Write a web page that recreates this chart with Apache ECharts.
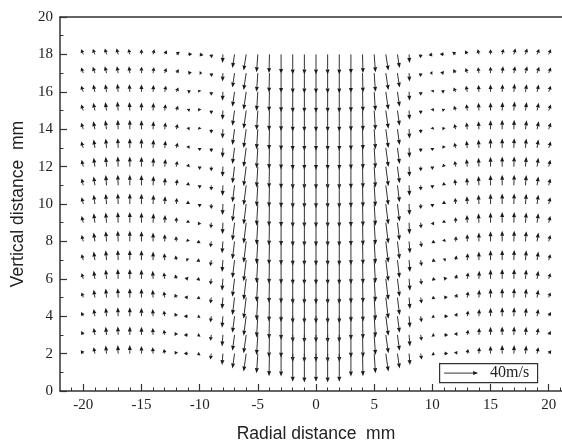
<!DOCTYPE html>
<html>
<head>
<meta charset="utf-8">
<script src="https://cdn.jsdelivr.net/npm/echarts@6/dist/echarts.min.js"></script>
<style>
  html, body { margin: 0; padding: 0; background: #fff; }
  #chart { width: 562px; height: 441px; }
</style>
</head>
<body>
<div id="chart"></div>
<script>
// grid positions (mm)
var xs = [-20,-19,-18,-17,-16,-15,-14,-13,-12,-11,-10,-9,-8,-7,-6,-5,-4,-3,-2,-1,0,1,2,3,4,5,6,7,8,9,10,11,12,13,14,15,16,17,18,19,20];
var ys = [18,17,16,15,14,13,12,11,10,9,8,7,6,5,4,3,2];

// tick labels
var xMajor = [-20,-15,-10,-5,0,5,10,15,20];
var xMinor = [-21,-20,-19,-18,-17,-16,-15,-14,-13,-12,-11,-10,-9,-8,-7,-6,-5,-4,-3,-2,-1,0,1,2,3,4,5,6,7,8,9,10,11,12,13,14,15,16,17,18,19,20,21];

// radial velocity u (m/s), one row per ys entry
var U = [
  [-2.5,-2.5,-2,-2,-1.5,0,1.5,2.5,4,5,4.5,0.5,-0.5,-2.5,-3,-1.5,-0.5,0,0,0,0, 0,0,0,0.5,1.5,3,2.5,0.5,-0.5,-4.5,-5,-4,-2.5,-1.5,0,1.5,2,2,2.5,2.5],
  [-2.5,-2.5,-2,-1.5,-1,0,1,2,3,4.5,3,0.5,-0.5,-2.5,-3,-1.5,-0.5,0,0,0,0, 0,0,0,0.5,1.5,3,2.5,0.5,-0.5,-3,-4.5,-3,-2,-1,0,1,1.5,2,2.5,2.5],
  [-2.5,-2,-1.5,-1,-0.5,0,0.5,1.5,2.5,3.5,-1.5,0,-0.5,-2.5,-3,-1.5,-0.5,0,0,0,0, 0,0,0,0.5,1.5,3,2.5,0.5,0,1.5,-3.5,-2.5,-1.5,-0.5,0,0.5,1,1.5,2,2.5],
  [-2.5,-2,-1.5,-1,-0.5,0,0.5,1,2,2.5,-1.5,0,-0.5,-2.5,-3,-1.5,-0.5,0,0,0,0, 0,0,0,0.5,1.5,3,2.5,0.5,0,1.5,-2.5,-2,-1,-0.5,0,0.5,1,1.5,2,2.5],
  [-2.5,-2,-1.5,-0.5,0,0,0.5,1,1.5,2,-1,0,-0.5,-2.5,-3,-1.5,-0.5,0,0,0,0, 0,0,0,0.5,1.5,3,2.5,0.5,0,1,-2,-1.5,-1,-0.5,0,0,0.5,1.5,2,2.5],
  [-2.5,-1.5,-1,-0.5,0,0,0.5,1,1.5,1.5,0,0,-0.5,-2.5,-3,-1.5,-0.5,0,0,0,0, 0,0,0,0.5,1.5,3,2.5,0.5,0,0,-1.5,-1.5,-1,-0.5,0,0,0.5,1,1.5,2.5],
  [-2,-1.5,-1,-0.5,0,0,0.5,1,1,1,0,0,-0.5,-2.5,-3,-1.5,-0.5,0,0,0,0, 0,0,0,0.5,1.5,3,2.5,0.5,0,0,-1,-1,-1,-0.5,0,0,0.5,1,1.5,2],
  [-2,-1.5,-1,-0.5,0,0,0.5,0.5,1,0.5,0,0,-0.5,-2.5,-3,-1.5,-0.5,0,0,0,0, 0,0,0,0.5,1.5,3,2.5,0.5,0,0,-0.5,-1,-0.5,-0.5,0,0,0.5,1,1.5,2],
  [-2,-1.5,-1,-0.5,0,0,0.5,0.5,0.5,0,0,0,-0.5,-2.5,-3,-1.5,-0.5,0,0,0,0, 0,0,0,0.5,1.5,3,2.5,0.5,0,0,0,-0.5,-0.5,-0.5,0,0,0.5,1,1.5,2],
  [-2,-1.5,-1,-0.5,0,0,0.5,0.5,0,0,-2,-0.5,-0.5,-2.5,-3,-1.5,-0.5,0,0,0,0, 0,0,0,0.5,1.5,3,2.5,0.5,0.5,2,0,0,-0.5,-0.5,0,0,0.5,1,1.5,2],
  [-2,-1.5,-1,-0.5,0,0,0,0,-0.5,-1,-3.5,-1,-1,-2.5,-3,-1.5,-0.5,0,0,0,0, 0,0,0,0.5,1.5,3,2.5,1,1,3.5,1,0.5,0,0,0,0,0.5,1,1.5,2],
  [-2,-1.5,-1,-0.5,0,0,0,-0.5,-1,-2.5,-4,-1,-1,-2.5,-3,-1.5,-0.5,0,0,0,0, 0,0,0,0.5,1.5,3,2.5,1,1,4,2.5,1,0.5,0,0,0,0.5,1,1.5,2],
  [-2,-1.5,-1,-0.5,0,0,-0.5,-1,-1.5,-4,-4,-1,-1,-2.5,-3,-1.5,-0.5,0,0,0,0, 0,0,0,0.5,1.5,3,2.5,1,1,4,4,1.5,1,0.5,0,0,0.5,1,1.5,2],
  [-2,-1.5,-1,-0.5,0,0,-0.5,-1,-2,-4.5,-3.5,-1,-1,-2.5,-3,-1.5,-0.5,0,0,0,0, 0,0,0,0.5,1.5,3,2.5,1,1,3.5,4.5,2,1,0.5,0,0,0.5,1,1.5,2],
  [-2.5,-1.5,-1,-0.5,0,0,-0.5,-1,-2,-5,-3,-1,-1,-2.5,-3,-1.5,-0.5,0,0,0,0, 0,0,0,0.5,1.5,3,2.5,1,1,3,5,2,1,0.5,0,0,0.5,1,1.5,2.5],
  [-2.5,-1.5,-1,-0.5,0,0,-0.5,-1,-2,-5,-3,-1,-1,-2.5,-3,-1.5,-0.5,0,0,0,0, 0,0,0,0.5,1.5,3,2.5,1,1,3,5,2,1,0.5,0,0,0.5,1,1.5,2.5],
  [-3,-1.5,-1,-0.5,0,0,-0.5,-1,-2,-5,-3,-1,-1,-2.5,-3,-1.5,-0.5,0,0,0,0, 0,0,0,0.5,1.5,3,2.5,1,1,3,5,2,1,0.5,0,0,0.5,1,1.5,3]
];

// vertical velocity v (m/s), positive = up
var V = [
  [6,6.5,7,7,6.5,6,6,5,3,0.5,-1,-4.5,-10,-16,-19,-21,-22,-23,-23.5,-23.5,-23.5, -23.5,-23.5,-23,-22,-21,-19,-16,-10,-4.5,-1,0.5,3,5,6,6,6.5,7,7,6.5,6],
  [6.5,7.5,8,8,8,7.5,7,6,4.5,1,0,-4.5,-10,-17,-20,-22,-23,-23.5,-24,-24,-24, -24,-24,-23.5,-23,-22,-20,-17,-10,-4.5,0,1,4.5,6,7,7.5,8,8,8,7.5,6.5],
  [7,8.5,9,9.5,9,8.5,8,7,5,1.5,2.5,-4.5,-10.5,-17.5,-21,-22.5,-23.5,-24,-24.5,-24.5,-24.5, -24.5,-24.5,-24,-23.5,-22.5,-21,-17.5,-10.5,-4.5,2.5,1.5,5,7,8,8.5,9,9.5,9,8.5,7],
  [7,9,10,10.5,10,9.5,9,7.5,5.5,2,3,-4.5,-11,-18,-21.5,-23,-24,-24.5,-25,-25,-25, -25,-25,-24.5,-24,-23,-21.5,-18,-11,-4.5,3,2,5.5,7.5,9,9.5,10,10.5,10,9,7],
  [7.5,9.5,10.5,11,11,10.5,9.5,8,6,2.5,3,-5,-11,-18.5,-22,-23.5,-24.5,-25,-25.5,-25.5,-25.5, -25.5,-25.5,-25,-24.5,-23.5,-22,-18.5,-11,-5,3,2.5,6,8,9.5,10.5,11,11,10.5,9.5,7.5],
  [7.5,10,11,11.5,11.5,11,10,8.5,6,3,-3.5,-5,-11.5,-19,-22.5,-24,-25,-25.5,-26,-26,-26, -26,-26,-25.5,-25,-24,-22.5,-19,-11.5,-5,-3.5,3,6,8.5,10,11,11.5,11.5,11,10,7.5],
  [8,10.5,11.5,12,12,11.5,10.5,9,6.5,3.5,-4,-5.5,-12,-19.5,-23,-24.5,-25.5,-26,-26.5,-26.5,-26.5, -26.5,-26.5,-26,-25.5,-24.5,-23,-19.5,-12,-5.5,-4,3.5,6.5,9,10.5,11.5,12,12,11.5,10.5,8],
  [8,10.5,12,12.5,12.5,12,11,9,7,4,-4,-6,-12.5,-20,-23.5,-25,-26,-26.5,-27,-27,-27, -27,-27,-26.5,-26,-25,-23.5,-20,-12.5,-6,-4,4,7,9,11,12,12.5,12.5,12,10.5,8],
  [8,11,12,12.5,12.5,12,11,9,7,4,-4,-6,-13,-20.5,-24,-25.5,-26.5,-27,-27.5,-27.5,-27.5, -27.5,-27.5,-27,-26.5,-25.5,-24,-20.5,-13,-6,-4,4,7,9,11,12,12.5,12.5,12,11,8],
  [8,11,12,12.5,12.5,12,11,9,6.5,3.5,-3,-6.5,-13.5,-21,-24.5,-26,-27,-27.5,-28,-28,-28, -28,-28,-27.5,-27,-26,-24.5,-21,-13.5,-6.5,-3,3.5,6.5,9,11,12,12.5,12.5,12,11,8],
  [7.5,10.5,12,12.5,12.5,12,10.5,8.5,6,3,-2,-7,-14,-21,-25,-26.5,-27.5,-28,-28.5,-28.5,-28.5, -28.5,-28.5,-28,-27.5,-26.5,-25,-21,-14,-7,-2,3,6,8.5,10.5,12,12.5,12.5,12,10.5,7.5],
  [7,10,11.5,12,12,11.5,10,8,5.5,2,-1.5,-7,-14,-21,-25,-27,-28,-28.5,-29,-29,-29, -29,-29,-28.5,-28,-27,-25,-21,-14,-7,-1.5,2,5.5,8,10,11.5,12,12,11.5,10,7],
  [6.5,9.5,11,11.5,11.5,11,9.5,7.5,5,1,-1.5,-7,-14,-21,-25,-27,-28.5,-29,-30,-30,-30, -30,-30,-29,-28.5,-27,-25,-21,-14,-7,-1.5,1,5,7.5,9.5,11,11.5,11.5,11,9.5,6.5],
  [6,9,10.5,11,11,10.5,9,7,4.5,0.5,-1.5,-7,-13.5,-20.5,-25,-27,-28.5,-29,-30.5,-30.5,-30.5, -30.5,-30.5,-29,-28.5,-27,-25,-20.5,-13.5,-7,-1.5,0.5,4.5,7,9,10.5,11,11,10.5,9,6],
  [5,8.5,10,10.5,10.5,10,8.5,6.5,4,0,-1.5,-7,-13.5,-19.5,-23,-25,-27,-28,-31,-31.5,-31, -31.5,-31,-28,-27,-25,-23,-19.5,-13.5,-7,-1.5,0,4,6.5,8.5,10,10.5,10.5,10,8.5,5],
  [4.5,8,9.5,10,10,9.5,8,6,3.5,0,-1.5,-7,-13.5,-18.5,-21.5,-23.5,-26.5,-27,-32,-32.5,-32, -32.5,-32,-27,-26.5,-23.5,-21.5,-18.5,-13.5,-7,-1.5,0,3.5,6,8,9.5,10,10,9.5,8,4.5],
  [4,7.5,9.5,10,10,9,7.5,5.5,3,0,-1.5,-7,-13.5,-17.5,-21,-23,-26.5,-27,-33,-34,-33, -34,-33,-27,-26.5,-23,-21,-17.5,-13.5,-7,-1.5,0,3,5.5,7.5,9,10,10,9.5,7.5,4]
];

var REF_SPEED = 40;      // m/s, legend arrow
var REF_LEN = 34;        // px for the legend arrow
var k = REF_LEN / REF_SPEED;

var data = [];
for (var i = 0; i < ys.length; i++) {
  for (var j = 0; j < xs.length; j++) {
    data.push([xs[j], ys[i], U[i][j], V[i][j]]);
  }
}

// arrow: tail at grid point, length scaled in pixels
function arrowShape(p0, dx, dy) {
  var len = Math.sqrt(dx * dx + dy * dy);
  if (len < 0.5) return [];
  var ux = dx / len, uy = dy / len;
  var p1 = [p0[0] + dx, p0[1] + dy];
  var hl = Math.min(5, Math.max(len * 0.6, Math.min(len, 3.5)));
  var hw = 2;
  var bx = p1[0] - ux * hl, by = p1[1] - uy * hl;
  var parts = [
    { type: 'polygon', shape: { points: [p1, [bx - uy * hw, by + ux * hw], [bx + uy * hw, by - ux * hw]] },
      style: { fill: '#1a1a1a' } }
  ];
  if (len > hl) {
    parts.unshift({ type: 'line', shape: { x1: p0[0], y1: p0[1], x2: bx, y2: by },
      style: { stroke: '#333', lineWidth: 1 } });
  }
  return parts;
}

function renderArrow(params, api) {
  var p0 = api.coord([api.value(0), api.value(1)]);
  var dx = api.value(2) * k;
  var dy = -api.value(3) * k;
  return { type: 'group', children: arrowShape(p0, dx, dy) };
}

var chart = echarts.init(document.getElementById('chart'), null, { renderer: 'canvas' });

var serif = 'Liberation Serif';
var sans = 'Liberation Sans';

var option = {
  animation: false,
  backgroundColor: '#fff',
  grid: [
    { left: 60, right: -10, top: 17, bottom: 50, containLabel: false, outerBoundsMode: 'none' },
    { left: 60, right: -10, top: 17, bottom: 50, containLabel: false, outerBoundsMode: 'none' }
  ],
  xAxis: [
    {
      gridIndex: 0, type: 'value', position: 'bottom', min: -22, max: 22, interval: 1,
      axisLine: { onZero: false, lineStyle: { color: '#333', width: 1.5 } },
      axisTick: { inside: true, length: 7, customValues: xMajor, lineStyle: { color: '#333', width: 1.2 } },
      axisLabel: { customValues: xMajor, color: '#222', fontFamily: serif, fontSize: 15, margin: 7 },
      splitLine: { show: false },
      name: 'Radial distance  mm', nameLocation: 'middle', nameGap: 34,
      nameTextStyle: { fontFamily: sans, fontSize: 17.5, color: '#222' }
    },
    {
      gridIndex: 0, type: 'value', position: 'top', min: -22, max: 22, interval: 1,
      axisLine: { onZero: false, lineStyle: { color: '#333', width: 1.5 } },
      axisTick: { show: false }, axisLabel: { show: false }, splitLine: { show: false }
    },
    {
      gridIndex: 1, type: 'value', position: 'bottom', min: -22, max: 22, interval: 1,
      axisLine: { show: false, onZero: false },
      axisTick: { inside: true, length: 3.5, customValues: xMinor, lineStyle: { color: '#333', width: 1 } },
      axisLabel: { show: false }, splitLine: { show: false }
    }
  ],
  yAxis: [
    {
      gridIndex: 0, type: 'value', position: 'left', min: 0, max: 20, interval: 2,
      axisLine: { show: true, onZero: false, lineStyle: { color: '#333', width: 1.5 } },
      axisTick: { show: true, inside: true, length: 7, lineStyle: { color: '#333', width: 1.2 } },
      axisLabel: { color: '#222', fontFamily: serif, fontSize: 15, margin: 7 },
      splitLine: { show: false },
      name: 'Vertical distance  mm', nameLocation: 'middle', nameGap: 32,
      nameTextStyle: { fontFamily: sans, fontSize: 17.5, color: '#222' }
    },
    {
      gridIndex: 1, type: 'value', position: 'left', min: 0, max: 20, interval: 1,
      axisLine: { show: false, onZero: false },
      axisTick: { show: true, inside: true, length: 3.5, lineStyle: { color: '#333', width: 1 } },
      axisLabel: { show: false }, splitLine: { show: false }
    }
  ],
  series: [{
    type: 'custom',
    coordinateSystem: 'cartesian2d',
    xAxisIndex: 0, yAxisIndex: 0,
    renderItem: renderArrow,
    encode: { x: 0, y: 1 },
    clip: false,
    silent: true,
    data: data
  }],
  graphic: [{
    type: 'group', left: 439, top: 363,
    children: [
      { type: 'rect', shape: { x: 0.5, y: 0.5, width: 98, height: 19 },
        style: { fill: '#fff', stroke: '#333', lineWidth: 1.2 } },
      { type: 'group', children: arrowShape([5, 10], REF_LEN, 0) },
      { type: 'text', x: 51, y: 10,
        style: { text: REF_SPEED + 'm/s', font: '16px "Liberation Serif"', fill: '#222', verticalAlign: 'middle' } }
    ]
  }]
};

chart.setOption(option);
</script>
</body>
</html>
